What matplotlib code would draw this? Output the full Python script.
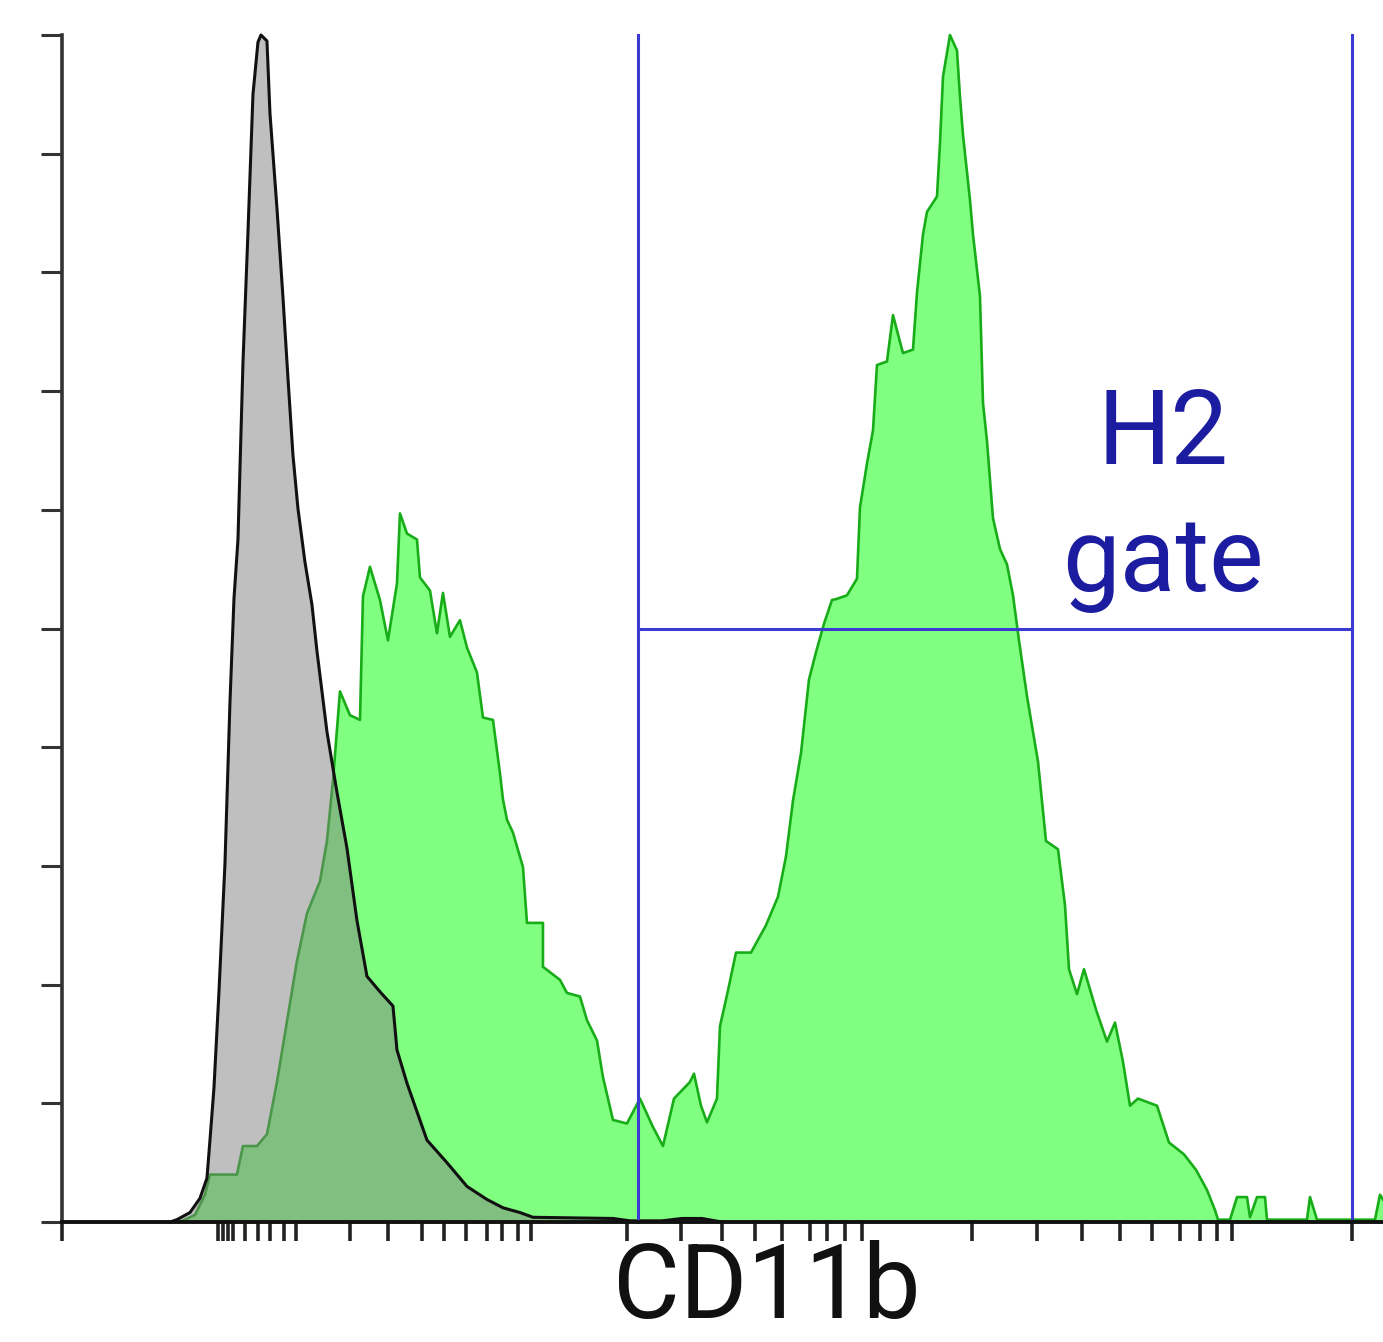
#!/usr/bin/env python
"""
CD11b histogram, isotype control (grey) vs stained sample (green), H2 gate.
"""

# Third party modules.
import matplotlib
matplotlib.use("Agg")
import matplotlib.pyplot as plt

# Globals and constants variables.

# isotype control, channel vs % of max
ctrl_x = [108, 115, 128, 138, 145, 148, 152, 157, 163, 168, 172, 176, 181, 186,
          191, 196, 199, 205, 208, 215, 221, 226, 231, 236, 243, 250, 255, 265,
          275, 285, 295, 305, 318, 331, 335, 345, 365, 385, 405, 425, 441, 458,
          471, 551, 568, 600, 620, 640, 660]
ctrl_pct = [0, 0.2, 0.8, 2.0, 3.7, 6.9, 11.3, 19.4, 30.2, 43.8, 52.5, 57.5, 72.4,
            83.4, 95.0, 99.4, 100, 99.5, 93.4, 85.4, 77.9, 71.1, 64.6, 60.1, 55.6,
            52.0, 48.1, 41.3, 36.2, 31.5, 25.4, 20.7, 19.4, 18.2, 14.5, 11.7, 6.9,
            5.0, 3.0, 1.9, 1.2, 0.8, 0.4, 0.3, 0.1, 0.1, 0.3, 0.3, 0]

# CD11b stained sample
stain_x = [118, 133, 143, 148, 175, 181, 195, 205, 215, 225, 235, 245, 258, 265,
           271, 278, 288, 298, 301, 308, 318, 326, 335, 338, 345, 355, 358, 368,
           375, 381, 388, 398, 405, 415, 421, 431, 438, 441, 445, 451, 461, 465,
           481, 481, 498, 505, 518, 525, 535, 541, 551, 565, 578, 591, 601, 612,
           628, 632, 639, 645, 655, 658, 666, 674, 689, 704, 716, 724, 731, 739,
           747, 754, 762, 770, 775, 785, 795, 798, 805, 811, 815, 825, 831, 841,
           851, 855, 861, 865, 875, 878, 881, 888, 895, 898, 901, 908, 911, 918,
           921, 925, 931, 938, 945, 951, 957, 965, 976, 984, 996, 1003, 1007,
           1015, 1022, 1034, 1045, 1053, 1061, 1068, 1076, 1095, 1107, 1122,
           1134, 1145, 1153, 1156, 1168, 1175, 1185, 1188, 1195, 1203, 1205,
           1245, 1248, 1255, 1313, 1318, 1321]
stain_pct = [0, 0.6, 2.3, 4.0, 4.0, 6.4, 6.4, 7.4, 11.8, 16.9, 22.0, 26.0, 28.7,
             32.1, 37.2, 44.7, 42.7, 42.3, 52.7, 55.2, 52.4, 49.0, 53.8, 59.7,
             58.0, 57.5, 54.3, 53.2, 49.6, 53.0, 49.3, 50.7, 48.4, 46.3, 42.5,
             42.3, 37.8, 35.6, 33.9, 32.8, 29.9, 25.2, 25.2, 21.5, 20.4, 19.3,
             19.0, 17.0, 15.3, 12.2, 8.6, 8.3, 10.4, 8.0, 6.4, 10.4, 11.8, 12.5,
             9.8, 8.4, 10.4, 16.5, 19.5, 22.7, 22.7, 25.0, 27.4, 30.8, 35.5,
             39.5, 45.7, 48.0, 50.4, 52.4, 52.5, 52.8, 54.2, 60.2, 63.9, 66.7,
             72.2, 72.5, 76.4, 73.2, 73.5, 78.3, 83.2, 85.1, 86.4, 90.9, 96.5,
             100, 98.7, 94.8, 91.6, 86.1, 83.2, 78.0, 69.0, 65.8, 59.3, 56.7,
             55.4, 52.8, 49.0, 44.3, 38.8, 32.1, 31.4, 26.7, 21.3, 19.2, 21.3,
             17.9, 15.2, 16.8, 13.5, 9.8, 10.4, 9.8, 6.7, 5.7, 4.4, 2.7, 1.0,
             0.2, 0.2, 2.1, 2.1, 0.4, 2.1, 2.1, 0.2, 0.2, 2.1, 0.2, 0.2, 2.3, 1.9]

# axis decoration (no labels, only ticks)
x_tick_channels = [0, 156, 161, 166, 171, 183, 196, 208, 222, 234, 288, 326, 360,
                   382, 404, 425, 440, 456, 469, 565, 619, 660, 693, 720, 748,
                   765, 783, 800, 910, 975, 1020, 1058, 1090, 1118, 1138, 1155,
                   1170, 1290]
y_tick_pct = [0, 10, 20, 30, 40, 50, 60, 70, 80, 90, 100]

# H2 gate
gate_lo = 576
gate_hi = 1290
gate_level = 50
gate_label = ["H2", "gate"]
gate_label_x = 1101
x_label = "CD11b"

GATE_BLUE = "#3b3bd2"


def run():
    fig = plt.figure(figsize=(13.83, 13.42), dpi=100)
    ax = fig.add_axes([0.0448, 0.0894, 0.9552, 0.8845])

    ax.fill_between(stain_x, stain_pct, color="#80ff80", lw=0, zorder=1)
    ax.plot(stain_x, stain_pct, color="#18ad18", lw=1.9, zorder=2, clip_on=False)
    ax.fill_between(ctrl_x, ctrl_pct, color="#808080", alpha=0.5, lw=0, zorder=3)
    ax.plot(ctrl_x, ctrl_pct, color="#111111", lw=2.2, zorder=4, clip_on=False)

    # gate
    ax.plot([gate_lo, gate_lo], [0, 100], color=GATE_BLUE, lw=2.2, zorder=5, clip_on=False)
    ax.plot([gate_hi, gate_hi], [0, 100], color=GATE_BLUE, lw=2.2, zorder=5, clip_on=False)
    ax.plot([gate_lo, gate_hi], [gate_level, gate_level], color=GATE_BLUE, lw=2.2, zorder=5)
    ax.text(gate_label_x, 63.9, gate_label[0], color="#1c1ca0", fontsize=74,
            family="Roboto", ha="center", va="baseline")
    ax.text(gate_label_x, 53.2, gate_label[1], color="#1c1ca0", fontsize=74,
            family="Roboto", ha="center", va="baseline")

    ax.set_xlim(0, 1321)
    ax.set_ylim(0, 100)
    ax.set_xticks(x_tick_channels)
    ax.set_yticks(y_tick_pct)
    ax.set_xticklabels([])
    ax.set_yticklabels([])
    ax.tick_params(axis="x", direction="out", length=14, width=2.6, color="#222222")
    ax.tick_params(axis="y", direction="out", length=15, width=2.2, color="#333333")

    for side in ("top", "right"):
        ax.spines[side].set_visible(False)
    ax.spines["left"].set_linewidth(2.6)
    ax.spines["left"].set_color("#333333")
    ax.spines["bottom"].set_linewidth(2.8)
    ax.spines["bottom"].set_color("#111111")
    ax.spines["bottom"].set_zorder(6)

    fig.text(0.5546, 0.002, x_label, fontsize=74, family="Roboto", color="#111111",
             ha="center", va="bottom")

    fig.savefig("out.png", dpi=100, facecolor="white")


if __name__ == '__main__':
    run()
